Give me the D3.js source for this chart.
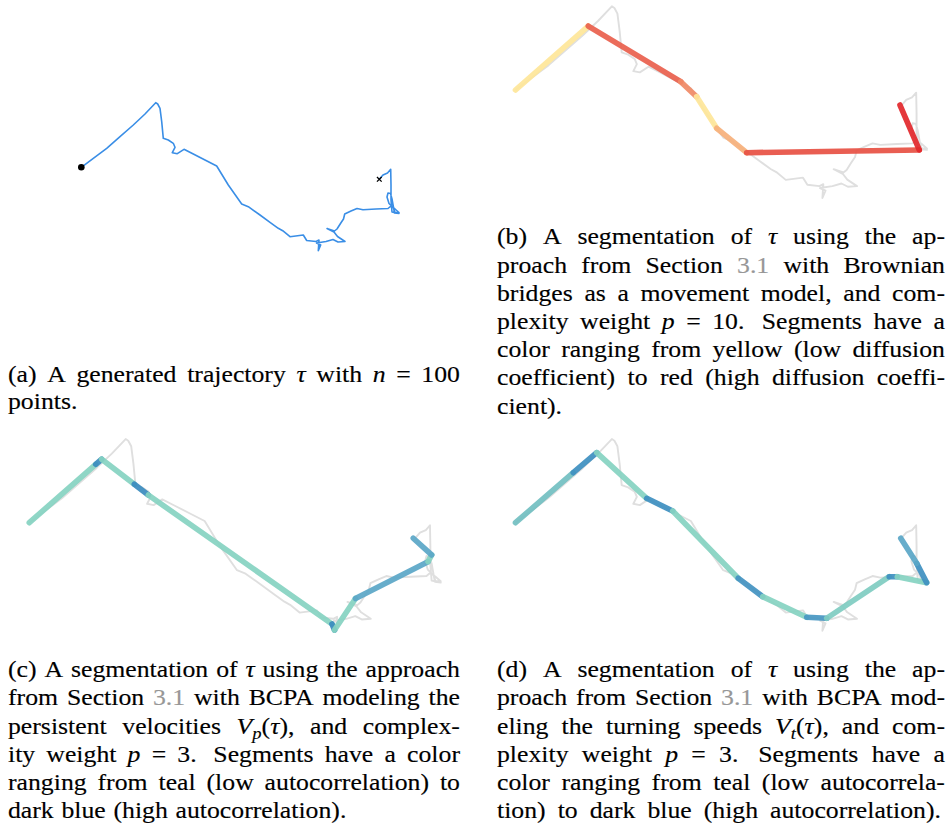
<!DOCTYPE html>
<html>
<head>
<meta charset="utf-8">
<script src="https://cdn.jsdelivr.net/npm/d3@7"></script>
<style>
  html, body { margin: 0; padding: 0; background: #fff; }
  svg { display: block; }
</style>
</head>
<body>
<svg id="fig" width="951" height="830"></svg>
<script>
// ---------------------------------------------------------------
// Trajectory tau: planar positions (x east, y north), start at origin
// ---------------------------------------------------------------
const trajX = [0, 12, 25.4, 38.7, 52, 63.7, 74.4, 76.4, 78.7, 80.4, 82, 87, 92, 93.7, 91, 96, 102.7,
  112, 123.7, 135.4, 147, 160.4, 167, 178.7, 188.7, 197, 201.4, 208.7, 222, 225.4, 234.7, 237.7,
  237, 239.4, 235.2, 244.7, 251.7, 256.7, 263.7, 256.2, 252.7, 245.7, 253.2, 255.7, 259.2, 262.2,
  263.4, 269.7, 275.7, 281.7, 294.7, 306.7, 309.7, 313.7, 317.7, 313.7, 312.2, 307.7, 305.7, 306.7,
  309.2, 310.7, 313.2, 317.7, 310.7, 309.7, 309.7, 309.4, 306.2, 301.7, 298];
const trajY = [0, 9, 19, 30.6, 42.3, 53.3, 64.6, 63.3, 59, 45.6, 29, 27.3, 24, 20, 14.6, 13.6, 18,
  13.3, 7.3, 1.3, -17.7, -36.7, -39.4, -47.7, -55, -61, -63.4, -69.4, -67.7, -73.2, -74.2, -72.7,
  -83.4, -77.7, -75.7, -74.2, -72.2, -74.7, -74.2, -69.2, -64.7, -61.2, -63.7, -61.7, -56.2, -51.7,
  -46.7, -43.7, -41.2, -42.4, -41.7, -41.2, -38.7, -41.7, -45.2, -45.2, -40.7, -36.2, -29.7, -25.7,
  -26.2, -31.7, -45.7, -46.2, -44.7, -32.7, -17.7, -2, -5.7, -7.7, -12];

// (b) Brownian bridges: segment breakpoints and diffusion coefficient (relative)
const bbX = [0, 56.2, 127.6, 139.9, 155.4, 178.5, 311.8, 296.9];
const bbY = [0, 49.4, 6.4, -5.2, -29.6, -48.4, -46.3, -11.6];
const bbDiffusion = [0.02, 0.75, 0.55, 0.02, 0.35, 0.82, 1.0];

// (c) BCPA on persistent velocities: breakpoints and autocorrelation (relative)
const vpX = [0, 51.3, 55.9, 81.1, 91.9, 233.7, 235.7, 251.9, 307.9, 310.7, 296.5];
const vpY = [0, 45.1, 49, 29.7, 21.4, -78.2, -82.9, -58.5, -30.1, -24.9, -12];
const vpAutocorr = [0.02, 0.95, 0.02, 0.95, 0.02, 0.95, 0.02, 0.6, 0.02, 0.6];

// (d) BCPA on turning speeds: breakpoints and autocorrelation (relative)
const vtX = [0, 44.6, 62.7, 101.3, 121.4, 172, 190.9, 224.9, 240.3, 288.6, 294.8, 317.5, 309.8, 297.5];
const vtY = [0, 38.6, 54.1, 18.8, 9, -42.9, -57.1, -73, -73.8, -41.7, -41.7, -46.3, -31.4, -12];
const vtAutocorr = [0.3, 0.9, 0.02, 0.9, 0.02, 0.85, 0.02, 0.8, 0.1, 0.9, 0.02, 0.9, 0.6];

// Sub-figure captions, one string per typeset line
const captionA = [
  "(a) A generated trajectory $τ$ with $n$ = 100",
  "points."
];
const captionB = [
  "(b) A segmentation of $τ$ using the ap-",
  "proach from Section {3.1} with Brownian",
  "bridges as a movement model, and com-",
  "plexity weight $p$ = 10. Segments have a",
  "color ranging from yellow (low diffusion",
  "coefficient) to red (high diffusion coeffi-",
  "cient)."
];
const captionC = [
  "(c) A segmentation of $τ$ using the approach",
  "from Section {3.1} with BCPA modeling the",
  "persistent velocities $V_p(τ)$, and complex-",
  "ity weight $p$ = 3. Segments have a color",
  "ranging from teal (low autocorrelation) to",
  "dark blue (high autocorrelation)."
];
const captionD = [
  "(d) A segmentation of $τ$ using the ap-",
  "proach from Section {3.1} with BCPA mod-",
  "eling the turning speeds $V_t(τ)$, and com-",
  "plexity weight $p$ = 3. Segments have a",
  "color ranging from teal (low autocorrela-",
  "tion) to dark blue (high autocorrelation)."
];

// ---------------------------------------------------------------
const svg = d3.select("#fig");
const traj = d3.zip(trajX, trajY);

// placement of each sub-figure's drawing area: origin pixel and pixels per unit
const panels = {
  a: { x0: 81.3, y0: 167.3, s: 1 },
  b: { x0: 515.5, y0: 90, s: 1.295 },
  c: { x0: 29.3, y0: 522.7, s: 1.295 },
  d: { x0: 515.5, y0: 522.7, s: 1.295 }
};

function panelScales(p) {
  return {
    x: d3.scaleLinear().domain([0, 100]).range([p.x0, p.x0 + 100 * p.s]),
    y: d3.scaleLinear().domain([0, 100]).range([p.y0, p.y0 - 100 * p.s])
  };
}

// (a) the raw trajectory with start and end markers
{
  const sc = panelScales(panels.a);
  const line = d3.line().x(d => sc.x(d[0])).y(d => sc.y(d[1]));
  svg.append("path")
    .attr("d", line(traj))
    .attr("fill", "none")
    .attr("stroke", "#3a8ee6")
    .attr("stroke-width", 1.6)
    .attr("stroke-linejoin", "round");
  const first = traj[0], last = traj[traj.length - 1];
  svg.append("path")
    .attr("transform", `translate(${sc.x(first[0])},${sc.y(first[1])})`)
    .attr("d", d3.symbol(d3.symbolCircle, 34)())
    .attr("fill", "#000");
  svg.append("path")
    .attr("transform", `translate(${sc.x(last[0])},${sc.y(last[1])})`)
    .attr("d", d3.symbol(d3.symbolTimes, 16)())
    .attr("fill", "none")
    .attr("stroke", "#000")
    .attr("stroke-width", 1.3);
}

const diffusionColor = d3.scaleLinear()
  .domain([0, 0.35, 0.55, 0.75, 1])
  .range(["#fee99b", "#f6b07b", "#f08a66", "#e9604d", "#e2272b"]);
const autocorrColor = d3.scaleLinear()
  .domain([0, 0.3, 0.6, 1])
  .range(["#86d3c1", "#72bfc1", "#5aa6c7", "#3587bd"]);

function drawSegmentation(p, vx, vy, vals, color) {
  const sc = panelScales(p);
  const line = d3.line().x(d => sc.x(d[0])).y(d => sc.y(d[1]));
  svg.append("path")
    .attr("d", line(traj))
    .attr("fill", "none")
    .attr("stroke", "#dfdfdf")
    .attr("stroke-width", 1.9)
    .attr("stroke-linejoin", "round");
  const pts = d3.zip(vx, vy);
  svg.append("g").selectAll("path")
    .data(vals)
    .join("path")
    .attr("d", (v, i) => line([pts[i], pts[i + 1]]))
    .attr("fill", "none")
    .attr("stroke", v => color(v))
    .attr("stroke-width", 5.6)
    .attr("stroke-linecap", "round")
    .attr("opacity", 0.92);
}

drawSegmentation(panels.b, bbX, bbY, bbDiffusion, diffusionColor);
drawSegmentation(panels.c, vpX, vpY, vpAutocorr, autocorrColor);
drawSegmentation(panels.d, vtX, vtY, vtAutocorr, autocorrColor);

// ---------------------------------------------------------------
// Justified caption typesetting
// ---------------------------------------------------------------
const FONT = "Liberation Serif, serif";
const FS = 23;      // font size
const SX = 1.12;    // horizontal glyph widening
const SPACE = FS * 0.333;

function fillWord(text, word) {
  let math = false, grey = false, sub = false;
  const runs = [];
  for (const ch of word) {
    if (ch === "$") { math = !math; continue; }
    if (ch === "{") { grey = true; continue; }
    if (ch === "}") { grey = false; continue; }
    if (math && ch === "_") { sub = true; continue; }
    const italic = math && /[A-Za-z\u03b1-\u03c9]/.test(ch);
    const isSub = sub; sub = false;
    const key = [italic, grey, isSub].join();
    const lastRun = runs[runs.length - 1];
    if (lastRun && lastRun.key === key) lastRun.s += ch;
    else runs.push({ key, s: ch, italic, grey, sub: isSub });
  }
  let shift = 0;
  runs.forEach(r => {
    const t = text.append("tspan").text(r.s);
    if (r.italic) t.attr("font-style", "italic");
    if (r.grey) t.attr("fill", "#979797").attr("stroke", "#979797");
    const target = r.sub ? 5 : 0;
    if (target !== shift) { t.attr("dy", target - shift); shift = target; }
    if (r.sub) t.attr("font-size", FS * 0.72);
  });
}

function drawCaption(lines, x0, width, base, lead, lastWidth) {
  lines.forEach((ln, i) => {
    const isLast = i === lines.length - 1;
    const W = isLast ? lastWidth : width;
    const g = svg.append("g");
    const words = ln.split(" ").filter(w => w.length);
    const nodes = words.map(w => {
      const t = g.append("text")
        .attr("font-size", FS)
        .attr("font-family", FONT)
        .attr("fill", "#000")
        .attr("stroke", "#000")
        .attr("stroke-width", 0.15);
      fillWord(t, w);
      return t;
    });
    const widths = nodes.map(t => t.node().getComputedTextLength());
    let sx = SX;
    const sum = d3.sum(widths);
    const weights = words.slice(0, -1).map(w => /[a-z0-9]\.$/.test(w) ? 1.5 : 1);
    const wsum = d3.sum(weights);
    let unit;
    if (W) {
      const minGap = 4;
      if (sum * sx + minGap * wsum > W) sx = (W - minGap * wsum) / sum;
      unit = wsum > 0 ? (W - sum * sx) / wsum : 0;
    } else {
      unit = SPACE;
    }
    g.attr("transform", `translate(${x0},${base + i * lead})`);
    let x = 0;
    nodes.forEach((t, k) => {
      t.attr("transform", `translate(${x},0) scale(${sx},1)`);
      x += widths[k] * sx + (k < weights.length ? unit * weights[k] : 0);
    });
  });
}

drawCaption(captionA, 8, 452, 381.5, 27.5, null);
drawCaption(captionB, 497, 448, 244.3, 28.2, null);
drawCaption(captionC, 8, 452, 677.3, 28.1, null);
drawCaption(captionD, 497, 448, 677.3, 28.1, 444);
</script>
</body>
</html>
